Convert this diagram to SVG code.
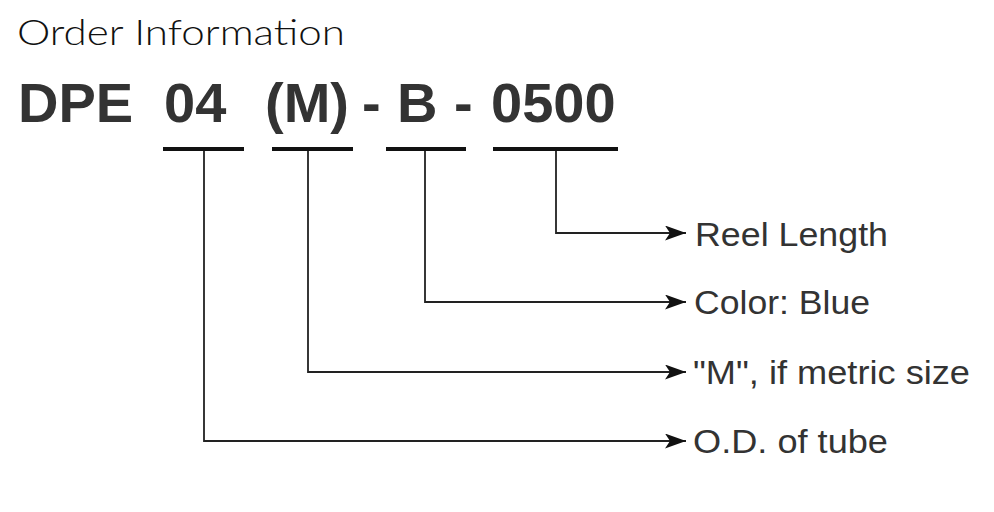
<svg xmlns="http://www.w3.org/2000/svg" width="994" height="512" viewBox="0 0 994 512">
<defs>
<style>
.title{font-family:"Lato","DejaVu Sans",sans-serif;font-weight:300;font-size:35px;fill:#111}
.code{font-family:"Liberation Sans",Arial,sans-serif;font-weight:bold;font-size:56px;fill:#333}
.lbl{font-family:"Liberation Sans",Arial,sans-serif;font-size:33px;fill:#333}
.ul{stroke:#111;stroke-width:4;fill:none}
.con{stroke:#222;stroke-width:1.8;fill:none}
</style>
<marker id="arr" viewBox="0 0 21 15" refX="21" refY="7.5" markerWidth="21" markerHeight="15" markerUnits="userSpaceOnUse" orient="auto">
<path d="M0,0 L21,7.5 L0,15 L5,7.5 Z" fill="#111"/>
</marker>
</defs>
<rect width="994" height="512" fill="#fff"/>
<text class="title" x="17" y="45" textLength="328" lengthAdjust="spacingAndGlyphs">Order Information</text>
<g id="code">
<text class="code" x="18" y="122">DPE</text>
<text class="code" x="164" y="122">04</text>
<text class="code" x="265" y="122">(M)</text>
<text class="code" x="362" y="122">-</text>
<text class="code" x="397" y="122">B</text>
<text class="code" x="454" y="122">-</text>
<text class="code" x="491" y="122">0500</text>
</g>
<g id="underlines">
<line class="ul" x1="163" y1="149" x2="244" y2="149"/>
<line class="ul" x1="272" y1="149" x2="353" y2="149"/>
<line class="ul" x1="386" y1="149" x2="466" y2="149"/>
<line class="ul" x1="493" y1="149" x2="618" y2="149"/>
</g>
<g id="connectors">
<polyline class="con" points="556,151 556,233 686,233" marker-end="url(#arr)"/>
<polyline class="con" points="425,151 425,302 686,302" marker-end="url(#arr)"/>
<polyline class="con" points="308,151 308,372 686,372" marker-end="url(#arr)"/>
<polyline class="con" points="204,151 204,441 686,441" marker-end="url(#arr)"/>
</g>
<g id="reel"><text class="lbl" x="695" y="246" textLength="193" lengthAdjust="spacingAndGlyphs">Reel Length</text></g>
<g id="color"><text class="lbl" x="694" y="314" textLength="176" lengthAdjust="spacingAndGlyphs">Color: Blue</text></g>
<g id="metric"><text class="lbl" x="693" y="384" textLength="277" lengthAdjust="spacingAndGlyphs">"M", if metric size</text></g>
<g id="od"><text class="lbl" x="693" y="453" textLength="195" lengthAdjust="spacingAndGlyphs">O.D. of tube</text></g>
</svg>
